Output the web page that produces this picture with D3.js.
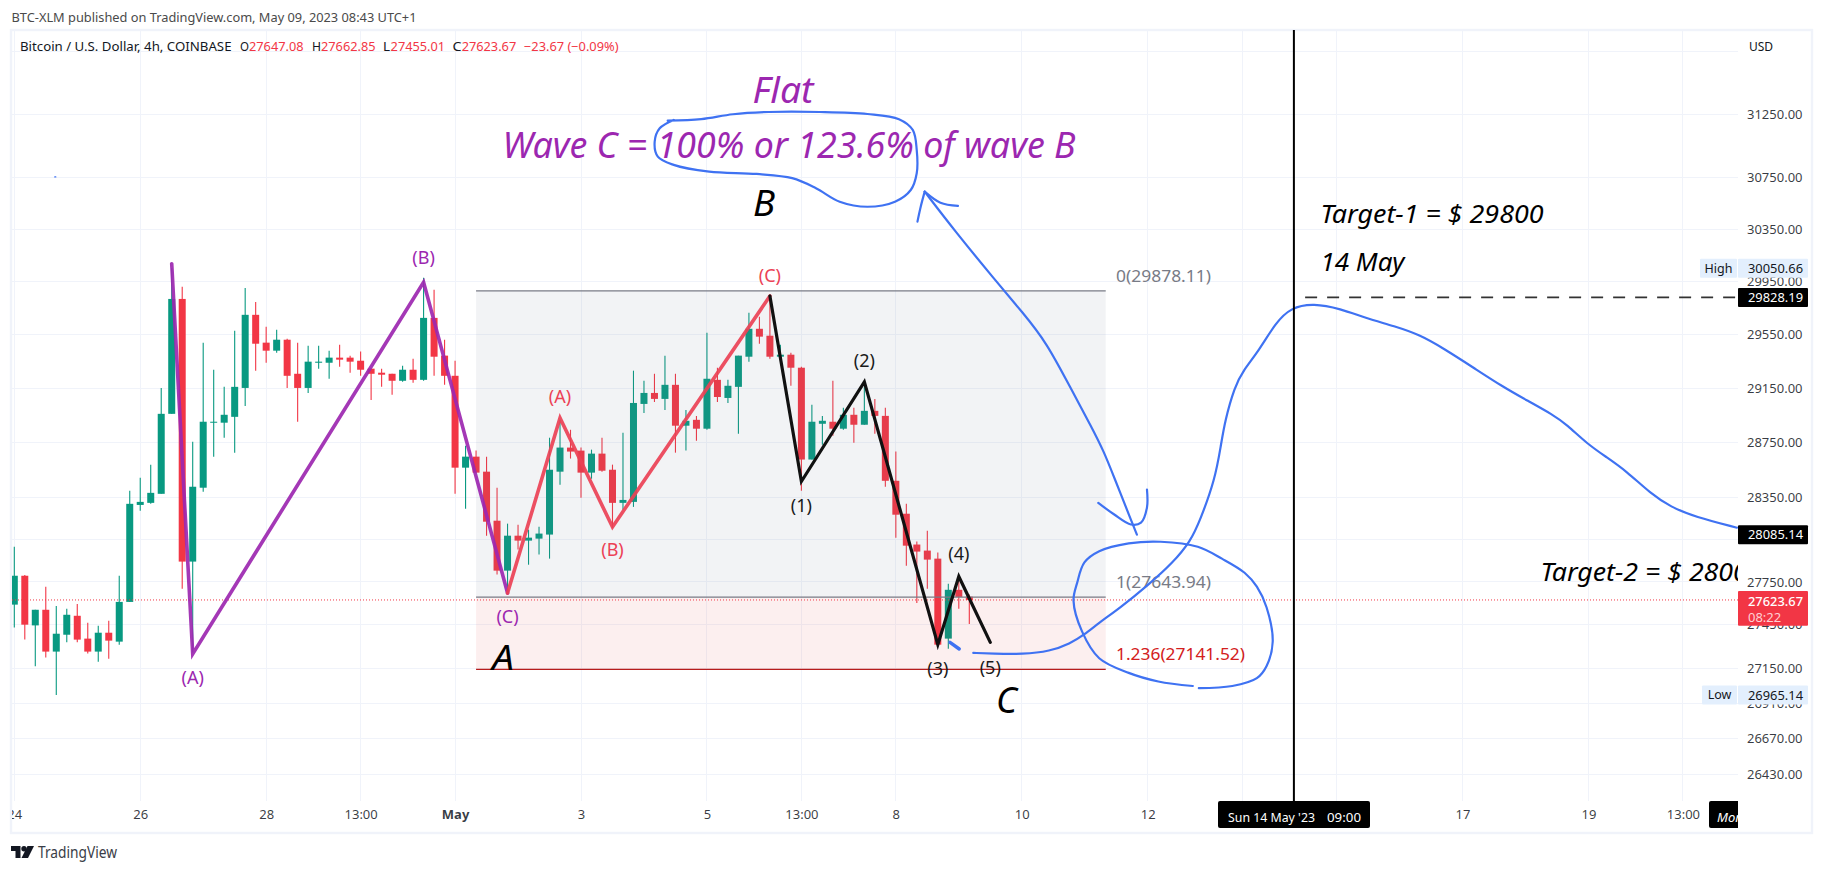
<!DOCTYPE html>
<html><head><meta charset="utf-8">
<style>
html,body{margin:0;padding:0;background:#fff;overflow:hidden}
svg{display:block}
text{font-family:"Noto Sans","Open Sans",sans-serif}
</style>
<script src="https://cdn.jsdelivr.net/npm/d3@7/dist/d3.min.js"></script>
</head><body><svg id="c" width="1823" height="872"></svg>
<script>
// ---------- candle data (4h bars) ----------
const opens=[27591,27794,27446,27555,27264,27381,27513,27354,27264,27395,27333,27610,28298,28313,28378,28960,29817,27894,28422,28895,28895,28938,29151,29697,29488,29428,29510,29256,29151,29338,29338,29376,29376,29353,29294,29264,29256,29204,29286,29211,29674,29391,29241,28567,28647,28538,28185,27830,28078,28043,28057,28086,28538,28713,28691,28531,28669,28552,28313,28320,29033,29114,29070,29174,28873,28916,28851,29211,29077,29159,29383,29592,29540,29383,29398,29301,28626,28887,28902,28851,28953,28880,28982,28945,28472,28235,28015,27972,27915,27354,27695,27647.08];
const highs=[28000,27800,27555,27716,27582,27562,27596,27465,27444,27478,27794,28400,28494,28589,29151,30050.66,29909,28756,29488,29286,29159,29577,29900,29794,29607,29585,29518,29488,29465,29465,29428,29473,29391,29421,29294,29294,29256,29316,29368,29977,29886,29510,29353,28727,28691,28647,28422,28164,28156,28121,28142,28785,28916,28843,28713,28698,28785,28589,28822,29279,29204,29256,29391,29256,28989,28945,29562,29301,29211,29391,29712,29682,29855,29473,29413,29308,29026,28945,29204,29004,29004,29159,29070,29004,28684,28306,28036,28114,27958,27738,27766,27662.85];
const lows=[27432,27347,27162,27224,26965.14,27328,27328,27250,27194,27215,27312,27610,28256,28306,28378,28960,27702,27257,28393,28647,28785,28676,29018,29279,29338,29413,29151,28902,29114,29294,29219,29308,29264,29241,29062,29159,29100,29196,29189,29204,29241,29174,28378,28270,28531,28078,27802,27660,27979,27872,27944,27915,28443,28633,28349,28487,28538,28135,28263,28284,28967,29047,28989,28676,28691,28763,28843,29047,29040,28814,29346,29480,29368,29383,29167,28400,28626,28734,28800,28843,28749,28880,28814,28429,28064,27865,27603,27702,27312,27284,27562,27455.01];
const closes=[27794,27451,27555,27264,27388,27520,27347,27264,27395,27340,27610,28306,28320,28385,28960,29817,27894,28429,28902,28902,28953,29159,29697,29480,29428,29510,29241,29151,29346,29346,29376,29361,29346,29286,29256,29249,29204,29286,29211,29674,29383,29241,28567,28647,28531,28178,27830,28078,28043,28064,28093,28552,28713,28684,28531,28669,28545,28313,28334,29040,29114,29070,29174,28873,28909,28851,29219,29084,29167,29391,29592,29533,29383,29398,29301,28626,28902,28909,28851,28953,28880,28982,28945,28472,28228,28007,27965,27908,27312,27695,27645,27623.67];

// ---------- axes ----------
const priceTicks=[31250,30750,30350,29950,29550,29150,28750,28350,27750,27450,27150,26910,26670,26430];
const priceGridOnly=[31750,28050];
const timeTickBars=[1,13,25,34,43,55,67,76,85,97,109,118,127,139,151,160];
const timeTickLabels=["24","26","28","13:00","May","3","5","13:00","8","10","12","","","17","19","13:00"];

// ---------- wave drawings: [bar index, price] ----------
const purpleWave=[[16,30085],[18,27248],[40,29944],[48,27672]];
const redWave=[[48,27672],[53,28929],[58,28140],[73,29839]];
const blackWave=[[73,29839],[76,28467],[82,29196],[89,27312],[91,27789],[94,27328]];
const purpleLabels=[["(A)",18,27077],["(B)",40,30121],["(C)",48,27500]];
const redLabels=[["(A)",53,29080],["(B)",58,27975],["(C)",73,29990]];
const blackLabels=[["(1)",76,28290],["(2)",82,29350],["(3)",89,27140],["(4)",91,27945],["(5)",94,27145]];

// ---------- fib box ----------
const fibBars=[45,105];
const fibLevels=[29878.11,27643.94,27141.52];
const fibNames=["0(29878.11)","1(27643.94)","1.236(27141.52)"];

// ---------- blue pen strokes: [bar index, price] ----------
const penTarget=[[92.38,27255],[94.25,27250],[97.11,27245],[99.69,27266],[101.59,27319],[102.97,27381],[104.36,27465],[106.26,27562],[109.07,27730],[111.41,27887],[113.06,28036],[113.98,28185],[115.41,28480],[115.98,28731],[116.36,28909],[117.28,29159],[118.08,29279],[119.6,29428],[121.18,29637],[122.65,29752],[124.79,29784],[127.38,29742],[129.7,29675],[132.56,29610],[134.89,29548],[137.23,29443],[140.05,29301],[142.85,29159],[145.23,29055],[147.56,28956],[148.95,28880],[150.85,28742],[152.72,28643],[154.57,28545],[156.95,28378],[158.83,28284],[161.14,28213],[165.15,28135]];
const penCircle=[[113.87,27012],[117.06,27027],[119.4,27081],[120.33,27165],[120.91,27332],[120.33,27571],[119.4,27717],[118.23,27815],[116.11,27913],[113.77,27999],[110.24,28035],[107.19,28023],[104.38,27967],[102.97,27888],[102.27,27742],[101.93,27619],[102.74,27404],[104.38,27218],[107.19,27117],[110.01,27058],[113.3,27027]];
const penArrow=[[87.75,30640],[90.54,30344],[94.45,29961],[97.11,29712],[99.37,29488],[101.59,29159],[103.69,28858],[104.83,28683],[105.78,28501],[107.4,28192],[107.97,28085]];
const penHeadLeft=[[87.06,30408],[87.37,30523],[87.75,30640]];
const penHeadRight=[[87.75,30640],[89.25,30554],[90.92,30529]];
const penLower=[[104.29,28313],[105.78,28231],[107.4,28158],[108.36,28171],[108.93,28280],[108.93,28409]];
const penLoop=[[63.26,31197],[66.46,31209],[69.48,31248],[72.86,31266],[77.76,31266],[82.29,31250],[85.3,31209],[86.61,31124],[86.99,30966],[86.99,30784],[86.42,30653],[84.92,30562],[82.29,30523],[79.65,30562],[77.39,30667],[75.13,30745],[71.74,30778],[67.21,30796],[63.83,30849],[62.32,30914],[62.02,31032],[62.5,31137],[63.83,31203]];
const penTick=[[90.16,27328],[91.04,27282]];
const penDot=[[4.86,30755],[4.95,30755]];

// ---------- price marks ----------
const lastPrice=27623.67, targetPrice=29828.19, endPrice=28085.14, highPrice=30050.66, lowPrice=26965.14;
const targetLineBars=[124,165.4];
const crosshairBar=122.93;

// ---------- layout + scales ----------
const pane={l:12,r:1738,t:30,b:801,outerR:1812,outerB:833};
const svg=d3.select("#c");
const x=d3.scaleLinear().domain([1,92]).range([14.3,969.3]);
const y=d3.scaleLog().domain([31250,26430]).range([114,774]);
const GREEN="#089981",RED="#f23645",BLUE="#3f72f2",GRID="#f0f3fa",PURPLE="#9c27b0",FIBG="#787b86",TXT="#131722";

const defs=svg.append("defs");
defs.append("clipPath").attr("id","paneClip").append("rect").attr("x",pane.l).attr("y",pane.t).attr("width",pane.r-pane.l).attr("height",pane.b-pane.t);
defs.append("clipPath").attr("id","timeClip").append("rect").attr("x",pane.l).attr("y",pane.b).attr("width",pane.r-pane.l).attr("height",pane.outerB-pane.b);

// header
svg.append("text").attr("x",11.5).attr("y",21.5).attr("font-size",12.4).attr("fill","#4a4a4a")
  .attr("textLength",405).attr("lengthAdjust","spacingAndGlyphs")
  .text("BTC-XLM published on TradingView.com, May 09, 2023 08:43 UTC+1");

// grid
const grid=svg.append("g").attr("stroke",GRID).attr("stroke-width",1).attr("shape-rendering","crispEdges");
grid.selectAll("line.h").data(priceTicks.concat(priceGridOnly)).join("line")
  .attr("x1",pane.l).attr("x2",pane.r).attr("y1",d=>y(d)).attr("y2",d=>y(d));
grid.selectAll("line.v").data(timeTickBars).join("line")
  .attr("x1",d=>x(d)).attr("x2",d=>x(d)).attr("y1",pane.t).attr("y2",pane.b);

// frame
svg.append("rect").attr("x",11).attr("y",30).attr("width",1801).attr("height",803)
  .attr("fill","none").attr("stroke",GRID).attr("stroke-width",2.4);

const plot=svg.append("g").attr("clip-path","url(#paneClip)");

// candles
const idx=d3.range(opens.length);
const colour=i=>closes[i]>=opens[i]?GREEN:RED;
plot.append("g").selectAll("line").data(idx).join("line")
  .attr("x1",i=>x(i+1)).attr("x2",i=>x(i+1))
  .attr("y1",i=>y(highs[i])).attr("y2",i=>y(lows[i]))
  .attr("stroke",colour).attr("stroke-width",1.1);
plot.append("g").selectAll("rect").data(idx).join("rect")
  .attr("x",i=>x(i+1)-3.5).attr("width",7)
  .attr("y",i=>y(Math.max(opens[i],closes[i])))
  .attr("height",i=>Math.max(1,Math.abs(y(opens[i])-y(closes[i]))))
  .attr("fill",colour);

// fib box
plot.append("rect").attr("x",x(fibBars[0])).attr("width",x(fibBars[1])-x(fibBars[0]))
  .attr("y",y(fibLevels[0])).attr("height",y(fibLevels[1])-y(fibLevels[0]))
  .attr("fill","#6f7c92").attr("fill-opacity",0.09);
plot.append("rect").attr("x",x(fibBars[0])).attr("width",x(fibBars[1])-x(fibBars[0]))
  .attr("y",y(fibLevels[1])).attr("height",y(fibLevels[2])-y(fibLevels[1]))
  .attr("fill","#d32f2f").attr("fill-opacity",0.08);
plot.append("g").selectAll("line").data(fibLevels).join("line")
  .attr("x1",x(fibBars[0])).attr("x2",x(fibBars[1])).attr("y1",d=>y(d)).attr("y2",d=>y(d))
  .attr("stroke",(d,i)=>i==2?"#b71c1c":FIBG).attr("stroke-width",1.2);
[[1116,276+5.5],[1116,582+5.5],[1116,654.5+5.5]].forEach((p,i)=>{
  plot.append("text").attr("x",p[0]).attr("y",p[1]).attr("font-size",16.5)
    .attr("fill",i==2?"#d32020":FIBG)
    .attr("textLength",i==2?129:95).attr("lengthAdjust","spacingAndGlyphs").text(fibNames[i]);
});

// last price dotted line
plot.append("line").attr("x1",pane.l).attr("x2",pane.r).attr("y1",y(lastPrice)).attr("y2",y(lastPrice))
  .attr("stroke",RED).attr("stroke-width",1).attr("stroke-dasharray","1 2");

// waves
const ln=d3.line().x(d=>x(d[0])).y(d=>y(d[1]));
const wave=(data,col,w,op)=>plot.append("path").attr("d",ln(data)).attr("fill","none")
  .attr("stroke",col).attr("stroke-width",w).attr("stroke-opacity",op).attr("stroke-linejoin","miter").attr("stroke-linecap","round");
wave(purpleWave,"#9c27b0",3.6,.92);
wave(redWave,"#ec4155",3.6,.92);
wave(blackWave,"#111",3.2,1);

const lab=(rows,col)=>plot.append("g").selectAll("text").data(rows).join("text")
  .attr("x",d=>x(d[1])).attr("y",d=>y(d[2])).attr("dy",-1.5).attr("text-anchor","middle").attr("dominant-baseline","central")
  .attr("font-size",18).attr("fill",col).text(d=>d[0]);
lab(purpleLabels,"#9c27b0");lab(redLabels,"#ec4155");lab(blackLabels,"#1a1a1a");

// pen
const pen=(data,w,curve)=>plot.append("path").attr("d",d3.line().x(d=>x(d[0])).y(d=>y(d[1])).curve(curve)(data))
  .attr("fill","none").attr("stroke",BLUE).attr("stroke-width",w).attr("stroke-linecap","round").attr("stroke-linejoin","round");
const cat=d3.curveCatmullRom.alpha(.5);
pen(penTarget,2.2,d3.curveBasis);pen(penArrow,2.2,d3.curveBasis);
[penCircle,penHeadLeft,penHeadRight,penLower,penLoop].forEach(p=>pen(p,2.2,cat));
pen(penTick,3.4,cat);pen(penDot,1.4,cat);

// target dashed
plot.append("line").attr("x1",x(targetLineBars[0])).attr("x2",x(targetLineBars[1])).attr("y1",y(targetPrice)).attr("y2",y(targetPrice))
  .attr("stroke","#333").attr("stroke-width",1.8).attr("stroke-dasharray","12 10");

// crosshair
plot.append("line").attr("x1",x(crosshairBar)).attr("x2",x(crosshairBar)).attr("y1",pane.t).attr("y2",pane.b)
  .attr("stroke","#000").attr("stroke-width",2);

// big handwritten-style notes
const note=(s,px,py,size,col,len)=>{const t=plot.append("text").attr("x",px).attr("y",py).attr("font-size",size).attr("font-style","italic").attr("fill",col);
  if(len)t.attr("textLength",len).attr("lengthAdjust","spacingAndGlyphs");t.text(s);};
note("Flat",752.5,103,36,PURPLE,61);
note("Wave C = 100% or 123.6% of wave B",502.5,158,36,PURPLE,573);
note("B",753,216,36,"#000",22);
note("A",492,670,34,"#000",22);
note("C",996,713,36,"#000",21);
note("Target-1 = $ 29800",1320.5,223,26,"#000",223);
note("14 May",1320.5,271,26,"#000",84);
note("Target-2 = $ 28000",1540.5,580.7,26,"#000",222);

// price axis
const gy=svg.append("g").attr("transform",`translate(${pane.r},0)`)
  .call(d3.axisRight(y).tickValues(priceTicks).tickSize(0).tickPadding(9).tickFormat(d3.format(".2f")));
gy.select(".domain").remove();
gy.selectAll("text").attr("font-size",13).attr("fill",TXT).attr("fill-opacity",.85).style("font-family",'"Noto Sans",sans-serif');
svg.append("text").attr("x",1749).attr("y",50.5).attr("font-size",12).attr("fill",TXT).text("USD");

// time axis
const gx=svg.append("g").attr("transform",`translate(0,${pane.b})`).attr("clip-path","url(#timeClipLocal)")
  .call(d3.axisBottom(x).tickValues(timeTickBars).tickSize(0).tickPadding(9).tickFormat((d,i)=>timeTickLabels[i]));
gx.append("clipPath").attr("id","timeClipLocal").append("rect").attr("x",pane.l).attr("y",0).attr("width",pane.r-pane.l).attr("height",32);
gx.select(".domain").remove();
gx.selectAll("text").attr("font-size",13).attr("fill",TXT).attr("fill-opacity",.85).style("font-family",'"Noto Sans",sans-serif')
  .attr("font-weight",d=>d===43?700:400);

// price tags
const tag=(price,txt,bg,col)=>{const yy=y(price);
  svg.append("rect").attr("x",1738).attr("y",yy-9.5).attr("width",70).attr("height",19).attr("fill",bg).attr("rx",1);
  svg.append("text").attr("x",1748).attr("y",yy+4.8).attr("font-size",13).attr("fill",col).attr("textLength",55).attr("lengthAdjust","spacingAndGlyphs").text(txt);};
const sideTag=(price,txt,w)=>{const yy=y(price);
  svg.append("rect").attr("x",1737-w).attr("y",yy-9.5).attr("width",w).attr("height",19).attr("fill","#e3effd").attr("rx",1);
  svg.append("text").attr("x",1737-w/2).attr("y",yy+4.4).attr("text-anchor","middle").attr("font-size",12.5).attr("fill",TXT).text(txt);};
sideTag(highPrice,"High",37);tag(highPrice,d3.format(".2f")(highPrice),"#e3effd",TXT);
sideTag(lowPrice,"Low",35);tag(lowPrice,d3.format(".2f")(lowPrice),"#e3effd",TXT);
tag(targetPrice,d3.format(".2f")(targetPrice),"#000","#fff");
tag(endPrice,d3.format(".2f")(endPrice),"#000","#fff");
// last price block with countdown
svg.append("rect").attr("x",1738).attr("y",591).attr("width",70).attr("height",34.7).attr("fill",RED).attr("rx",1);
svg.append("text").attr("x",1748).attr("y",605.8).attr("font-size",13).attr("font-weight",500).attr("fill","#fff").attr("textLength",55).attr("lengthAdjust","spacingAndGlyphs").text(d3.format(".2f")(lastPrice));
svg.append("text").attr("x",1748).attr("y",621.5).attr("font-size",13).attr("fill","#ffd0d4").text("08:22");

// crosshair time tags
const tg=svg.append("g").attr("clip-path","url(#timeClip)");
tg.append("rect").attr("x",1218).attr("y",801).attr("width",152).attr("height",27).attr("rx",2).attr("fill","#000");
tg.append("text").attr("x",1228).attr("y",821.5).attr("font-size",13).attr("fill","#fff").attr("textLength",87).attr("lengthAdjust","spacingAndGlyphs").text("Sun 14 May '23");
tg.append("text").attr("x",1327).attr("y",821.5).attr("font-size",13).attr("fill","#fff").attr("textLength",34).attr("lengthAdjust","spacingAndGlyphs").text("09:00");
tg.append("rect").attr("x",1709).attr("y",801).attr("width",40).attr("height",27).attr("rx",2).attr("fill","#000");
tg.append("text").attr("x",1717).attr("y",821.5).attr("font-size",13).attr("font-style","italic").attr("fill","#fff").text("Mon");

// legend
const legend=[["Bitcoin / U.S. Dollar, 4h, COINBASE",20,211.5,TXT],["O",240,9,TXT],["27647.08",249,54.5,RED],["H",312,9,TXT],["27662.85",321,54.5,RED],["L",383,7,TXT],["27455.01",390.6,54.5,RED],["C",452.4,9,TXT],["27623.67",461.7,54.5,RED],["−23.67 (−0.09%)",524,94.5,RED]];
svg.append("g").selectAll("text").data(legend).join("text")
  .attr("x",d=>d[1]).attr("y",51).attr("font-size",12.2).attr("fill",d=>d[3])
  .attr("textLength",d=>d[2]).attr("lengthAdjust","spacingAndGlyphs").text(d=>d[0]);

// TradingView logo + wordmark
const logo=svg.append("g").attr("fill","#131722").attr("transform","translate(11,846)");
logo.append("path").attr("d","M0 0H9.5V12H4.5V5H0Z");
logo.append("circle").attr("cx",13).attr("cy",2.7).attr("r",2.7);
logo.append("path").attr("d","M16.5 0H23L17 12H10.5Z");
svg.append("text").attr("x",38).attr("y",858).attr("font-size",15.5).attr("fill","#3a3d47").attr("textLength",79).attr("lengthAdjust","spacingAndGlyphs").text("TradingView");
</script></body></html>
